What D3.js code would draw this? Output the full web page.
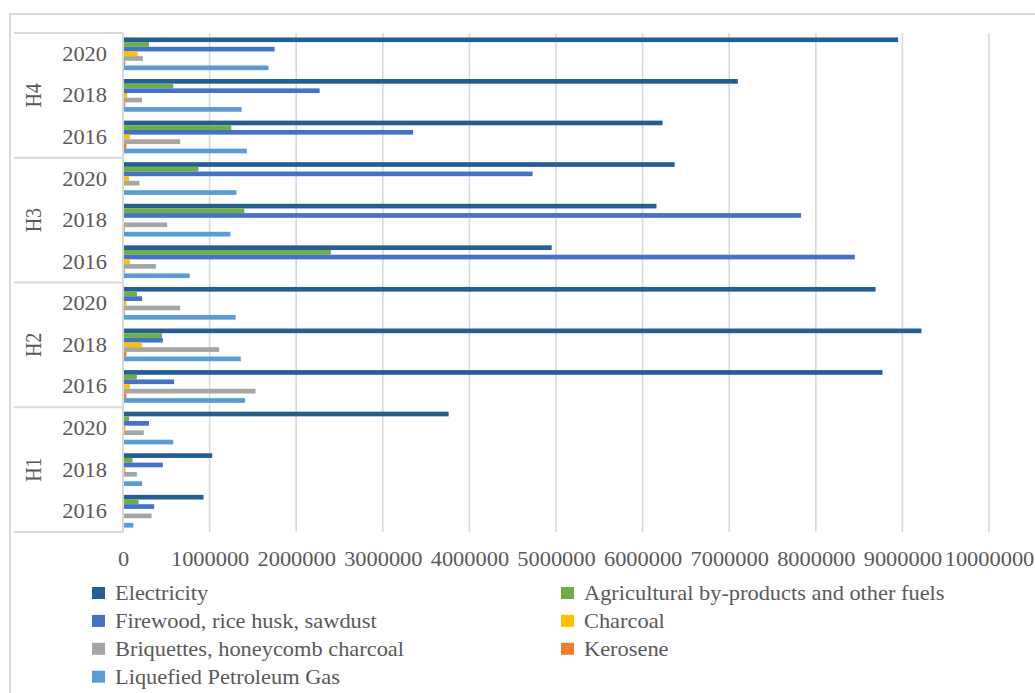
<!DOCTYPE html>
<html>
<head>
<meta charset="utf-8">
<script src="https://cdn.jsdelivr.net/npm/d3@7"></script>
<style>
  html, body { margin: 0; padding: 0; background: #fff; }
  svg { display: block; }
  text { font-family: "Liberation Serif", "Times New Roman", serif; fill: #595959; }
</style>
</head>
<body>
<svg id="chart" width="1035" height="693"></svg>
<script>
// Household energy use by region group and survey year
const groups = ["H1", "H2", "H3", "H4"];
const years = ["2016", "2018", "2020"];
const seriesNames = [
  "Electricity",
  "Agricultural by-products and other fuels",
  "Firewood, rice husk, sawdust",
  "Charcoal",
  "Briquettes, honeycomb charcoal",
  "Kerosene",
  "Liquefied Petroleum Gas"
];
const seriesColors = ["#255E91", "#70AD47", "#4472C4", "#FFC000", "#A5A5A5", "#ED7D31", "#5B9BD5"];

// values per series, ordered H1-2016, H1-2018, H1-2020, H2-2016, ... H4-2020
const electricity = [930000, 1030000, 3760000, 8770000, 9220000, 8690000, 4950000, 6160000, 6370000, 6230000, 7100000, 8950000];
const agricultural = [180000, 110000, 70000, 160000, 450000, 160000, 2400000, 1400000, 870000, 1250000, 580000, 300000];
const firewood = [360000, 460000, 300000, 590000, 460000, 220000, 8450000, 7830000, 4730000, 3350000, 2270000, 1750000];
const charcoal = [5000, 30000, 30000, 80000, 220000, 40000, 80000, 10000, 70000, 80000, 50000, 170000];
const briquettes = [330000, 160000, 240000, 1530000, 1110000, 660000, 380000, 510000, 190000, 660000, 220000, 230000];
const kerosene = [3000, 3000, 3000, 40000, 40000, 20000, 20000, 20000, 10000, 40000, 25000, 25000];
const lpg = [120000, 220000, 580000, 1410000, 1360000, 1300000, 770000, 1240000, 1310000, 1430000, 1370000, 1680000];

const xTicks = [0, 1000000, 2000000, 3000000, 4000000, 5000000, 6000000, 7000000, 8000000, 9000000, 10000000];

const seriesValues = [electricity, agricultural, firewood, charcoal, briquettes, kerosene, lpg];

// rows: one per group/year, first category drawn at the bottom
const rows = [];
groups.forEach(g => years.forEach(y => rows.push({ group: g, year: y })));
rows.forEach((r, i) => { r.key = r.group + "-" + r.year; r.index = i; });

const svg = d3.select("#chart");
const SX = 1.12; // horizontal text stretch
const gridColor = "#d9d9d9";

const plot = { left: 123, right: 989, top: 33, bottom: 532 };

const x = d3.scaleLinear().domain([0, 10000000]).range([plot.left, plot.right]);
const y = d3.scaleBand()
  .domain(rows.map(r => r.key).reverse())
  .range([plot.top, plot.bottom])
  .padding(0);
const ySeries = d3.scaleBand()
  .domain(seriesNames)
  .range([0, y.bandwidth()])
  .paddingInner(0)
  .paddingOuter(0.95);

// outer chart frame
svg.append("path")
  .attr("d", `M10,693 L10,14 L1035,14`)
  .attr("fill", "none")
  .attr("stroke", gridColor)
  .attr("stroke-width", 2);

// vertical gridlines
svg.append("g")
  .selectAll("line")
  .data(xTicks.slice(1))
  .join("line")
  .attr("x1", d => x(d)).attr("x2", d => x(d))
  .attr("y1", plot.top).attr("y2", plot.bottom)
  .attr("stroke", gridColor)
  .attr("stroke-width", 1.6);

// bars
const barG = svg.append("g");
seriesNames.forEach((name, si) => {
  barG.append("g")
    .attr("fill", seriesColors[si])
    .selectAll("rect")
    .data(rows)
    .join("rect")
    .attr("x", x(0))
    .attr("y", r => y(r.key) + ySeries(name))
    .attr("width", r => Math.max(0, x(seriesValues[si][r.index]) - x(0)))
    .attr("height", ySeries.bandwidth());
});

// category axis: group separators and axis line
const groupEdges = [plot.top];
groups.slice().reverse().forEach(g => {
  const keys = years.map(yr => g + "-" + yr);
  const bottom = d3.max(keys, k => y(k) + y.bandwidth());
  groupEdges.push(bottom);
});
svg.append("g")
  .selectAll("line")
  .data(groupEdges)
  .join("line")
  .attr("x1", 14).attr("x2", plot.left)
  .attr("y1", d => d).attr("y2", d => d)
  .attr("stroke", gridColor)
  .attr("stroke-width", 2);
svg.append("line")
  .attr("x1", plot.left).attr("x2", plot.left)
  .attr("y1", plot.top).attr("y2", plot.bottom)
  .attr("stroke", gridColor)
  .attr("stroke-width", 2);

// year labels
svg.append("g")
  .selectAll("text")
  .data(rows)
  .join("text")
  .attr("transform", r => `translate(107,${y(r.key) + y.bandwidth() / 2}) scale(${SX},1)`)
  .attr("text-anchor", "end")
  .attr("dy", "0.35em")
  .style("font-size", "20px")
  .text(r => r.year);

// group labels, rotated
svg.append("g")
  .selectAll("text")
  .data(groups)
  .join("text")
  .attr("transform", g => {
    const keys = years.map(yr => g + "-" + yr);
    const top = d3.min(keys, k => y(k));
    const bottom = d3.max(keys, k => y(k) + y.bandwidth());
    return `translate(33,${(top + bottom) / 2}) scale(${SX},1) rotate(-90)`;
  })
  .attr("text-anchor", "middle")
  .attr("dy", "0.35em")
  .style("font-size", "20px")
  .text(g => g);

// value axis
const xAxis = d3.axisBottom(x)
  .tickValues(xTicks)
  .tickFormat(d3.format("d"))
  .tickSize(0)
  .tickPadding(0);
const axG = svg.append("g")
  .attr("transform", `translate(0,559)`)
  .call(xAxis);
axG.select(".domain").remove();
axG.selectAll("text")
  .attr("y", 0)
  .attr("dy", "0.35em")
  .attr("transform", `scale(${SX},1)`)
  .style("font-size", "20px")
  .style("font-family", "'Liberation Serif', 'Times New Roman', serif")
  .style("fill", "#595959");

// legend: two columns, filled row by row
const legend = svg.append("g");
const legendItems = legend.selectAll("g")
  .data(seriesNames)
  .join("g")
  .attr("transform", (d, i) => {
    const col = i % 2;
    const row = Math.floor(i / 2);
    return `translate(${col === 0 ? 92 : 561},${593 + row * 27.9})`;
  });
legendItems.append("rect")
  .attr("x", 0).attr("y", -6)
  .attr("width", 13).attr("height", 12)
  .attr("fill", (d, i) => seriesColors[i]);
legendItems.append("text")
  .attr("transform", `translate(23,0) scale(${SX},1)`)
  .attr("dy", "0.35em")
  .style("font-size", "20px")
  .text(d => d);
</script>
</body>
</html>
